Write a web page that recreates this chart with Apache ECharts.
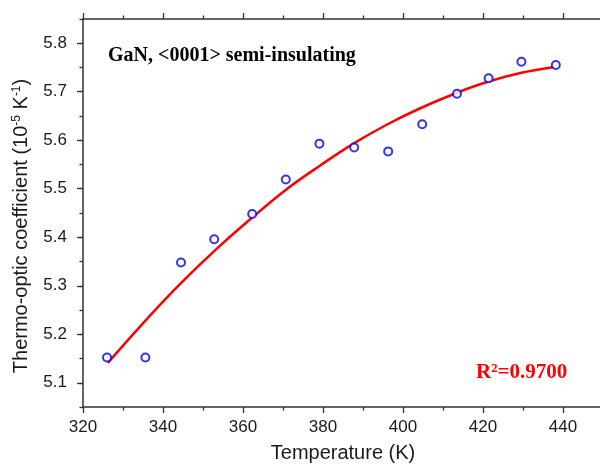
<!DOCTYPE html>
<html>
<head>
<meta charset="utf-8">
<script src="https://cdn.jsdelivr.net/npm/echarts@6/dist/echarts.min.js"></script>
<style>
  html, body { margin: 0; padding: 0; background: #fff; }
  #chart { width: 600px; height: 464px; }
</style>
</head>
<body>
<div id="chart"></div>
<script>
// Measured thermo-optic coefficient of semi-insulating GaN vs temperature
const tempK = [326.0, 335.6, 344.5, 352.8, 362.3, 370.7, 379.1, 387.8, 396.3, 404.8, 413.5, 421.4, 429.6, 438.2];
const thermoOptic = [5.152, 5.152, 5.348, 5.396, 5.448, 5.519, 5.593, 5.585, 5.577, 5.633, 5.696, 5.728, 5.762, 5.755];

// Fitted curve through the measurements
const fitTempK = [326.2, 336.8, 344.3, 353.8, 361.8, 370.9, 379.3, 387.6, 395.9, 404.3, 413.5, 421.4, 429.6, 437.8];
const fitValues = [5.141, 5.239, 5.304, 5.379, 5.437, 5.499, 5.548, 5.593, 5.632, 5.666, 5.698, 5.721, 5.739, 5.751];

// Axis ranges and labelled tick values
const xRange = [320, 450];
const xStep = 20;
const yRange = [5.05, 5.85];
const yMajorTicks = [5.1, 5.2, 5.3, 5.4, 5.5, 5.6, 5.7, 5.8];
const yMinorStep = 0.05;

const sampleLabel = 'GaN, <0001> semi-insulating';
const fitLabel = 'R\u00B2=0.9700';

const sans = '"Liberation Sans", Arial, sans-serif';
const serif = '"Liberation Serif", "Times New Roman", serif';
const axisColor = '#333';
const textColor = '#1a1a1a';

const chart = echarts.init(document.getElementById('chart'), null, { renderer: 'canvas' });

const xBase = {
  type: 'value',
  min: xRange[0],
  max: xRange[1],
  interval: xStep,
  splitLine: { show: false },
  axisLine: { show: true, lineStyle: { color: axisColor, width: 1.5 } },
  axisTick: { show: true, length: 6, lineStyle: { color: axisColor, width: 1.3 } },
  minorTick: { show: true, splitNumber: 2, length: 3.5, lineStyle: { color: axisColor, width: 1.3 } }
};

chart.setOption({
  animation: false,
  backgroundColor: '#fff',
  grid: { left: 83, top: 19, width: 520, height: 388, containLabel: false, outerBoundsMode: 'none' },
  xAxis: [
    Object.assign({}, xBase, {
      position: 'bottom',
      name: 'Temperature (K)',
      nameLocation: 'middle',
      nameGap: 36,
      nameTextStyle: { fontFamily: sans, fontSize: 20, color: textColor },
      axisLabel: {
        show: true, margin: 12, fontFamily: sans, fontSize: 17, color: textColor,
        formatter: v => (v <= 440 ? String(v) : '')
      }
    }),
    Object.assign({}, xBase, {
      position: 'top',
      axisLabel: { show: false }
    })
  ],
  yAxis: [
    {
      type: 'value',
      position: 'left',
      min: yRange[0],
      max: yRange[1],
      splitLine: { show: false },
      axisLine: { show: true, lineStyle: { color: axisColor, width: 1.5 } },
      axisTick: { show: true, length: 6, customValues: yMajorTicks, lineStyle: { color: axisColor, width: 1.3 } },
      axisLabel: {
        show: true, margin: 16, fontFamily: sans, fontSize: 17, color: textColor,
        customValues: yMajorTicks,
        formatter: v => v.toFixed(1)
      },
      name: 'Thermo-optic coefficient (10{sup|-5} K{sup|-1})',
      nameLocation: 'middle',
      nameGap: 52,
      nameRotate: 90,
      nameTextStyle: {
        fontFamily: sans, fontSize: 20, color: textColor,
        padding: [0, 26, 0, 0],
        rich: {
          sup: { fontFamily: sans, fontSize: 12, color: textColor, verticalAlign: 'top', lineHeight: 20 }
        }
      }
    },
    {
      type: 'value',
      position: 'left',
      min: yRange[0],
      max: yRange[1],
      interval: yMinorStep,
      splitLine: { show: false },
      axisLine: { show: false },
      axisTick: { show: true, length: 3.5, lineStyle: { color: axisColor, width: 1.3 } },
      axisLabel: { show: false }
    }
  ],
  series: [
    {
      name: 'fit',
      type: 'line',
      xAxisIndex: 0,
      yAxisIndex: 0,
      data: fitTempK.map((t, i) => [t, fitValues[i]]),
      smooth: 0.4,
      showSymbol: false,
      lineStyle: { color: '#f00', width: 2.5 },
      z: 2
    },
    {
      name: 'measured',
      type: 'scatter',
      xAxisIndex: 0,
      yAxisIndex: 0,
      data: tempK.map((t, i) => [t, thermoOptic[i]]),
      symbol: 'circle',
      symbolSize: 8,
      itemStyle: { color: '#fff', borderColor: '#0000f0', borderWidth: 2 },
      z: 3
    }
  ],
  graphic: [
    {
      type: 'text',
      left: 108,
      top: 46,
      style: { text: sampleLabel, fontFamily: serif, fontWeight: 'bold', fontSize: 20, fill: '#000' }
    },
    {
      type: 'text',
      left: 476,
      top: 362,
      style: { text: fitLabel, fontFamily: serif, fontWeight: 'bold', fontSize: 21, fill: '#f00' }
    }
  ]
});
</script>
</body>
</html>
